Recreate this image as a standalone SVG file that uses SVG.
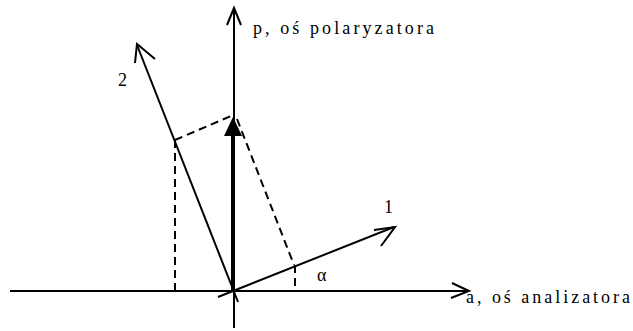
<svg xmlns="http://www.w3.org/2000/svg" width="633" height="331" viewBox="0 0 633 331">
<style>
.ln{stroke:#000;stroke-width:2;fill:none;stroke-linecap:butt}
.dash{stroke:#000;stroke-width:2;fill:none;stroke-dasharray:8,5}
.t{font-family:"Liberation Serif","Times New Roman",serif;font-size:18px;fill:#000}
</style>
<rect width="633" height="331" fill="#fff"/>
<g id="connectors">
<g id="axis-a">
<line class="ln" x1="10" y1="291" x2="469" y2="291"/>
<polyline class="ln" points="452,283 469,291 451,298"/>
</g>
<g id="axis-p">
<line class="ln" x1="234" y1="8" x2="234" y2="328"/>
<polyline class="ln" points="227,25 234,8 241,25"/>
</g>
<g id="vector-e">
<line stroke="#000" stroke-width="4" x1="233" y1="291" x2="233" y2="130"/>
<polygon points="233,117 224,136 242,136" fill="#000"/>
</g>
<g id="vector-2">
<line class="ln" x1="238" y1="302" x2="137" y2="45"/>
<polyline class="ln" points="135,63 137,44 155,59"/>
</g>
<g id="vector-1">
<line class="ln" x1="218" y1="297" x2="394" y2="227"/>
<polyline class="ln" points="374,230 395,227 381,246"/>
</g>
<g id="projections">
<line class="dash" x1="175" y1="140" x2="231" y2="116"/>
<line class="dash" x1="175" y1="140" x2="175" y2="291"/>
<line class="dash" x1="237" y1="119" x2="294" y2="265"/>
<line class="dash" x1="295" y1="265" x2="295" y2="291"/>
</g>
</g>
<g id="label-p"><text class="t" x="253" y="34" textLength="181" lengthAdjust="spacing">p, oś polaryzatora</text></g>
<g id="label-a"><text class="t" x="466" y="303" textLength="164" lengthAdjust="spacing">a, oś analizatora</text></g>
<g id="label-2"><text class="t" x="118" y="86" font-size="19">2</text></g>
<g id="label-1"><text class="t" x="384" y="213" font-size="19">1</text></g>
<g id="label-alpha"><text class="t" x="317" y="281">α</text></g>
</svg>
